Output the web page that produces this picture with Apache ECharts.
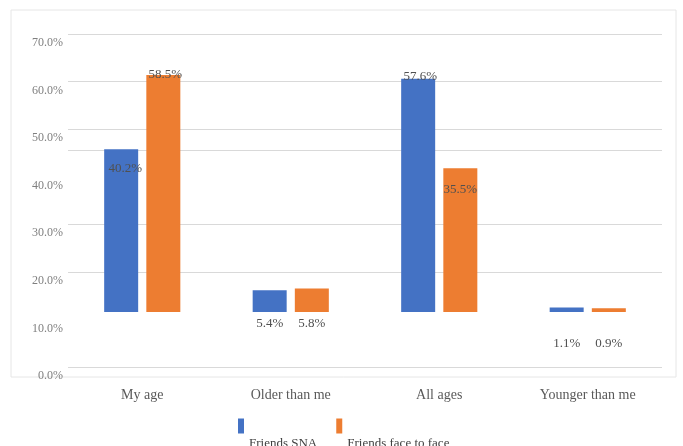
<!DOCTYPE html>
<html>
<head>
<meta charset="utf-8">
<script src="https://cdn.jsdelivr.net/npm/echarts@6/dist/echarts.min.js"></script>
<style>
    html, body {margin: 0; padding: 0; background: #fff;}
    #main {width: 683px; height: 446px;}
</style>
</head>
<body>
<div id="main"></div>
<script>
    const categories = ['My age', 'Older than me', 'All ages', 'Younger than me'];
    const friendsSNA = [40.2, 5.4, 57.6, 1.1];
    const friendsFace = [58.5, 5.8, 35.5, 0.9];
    const tickLabels = ['0.0%', '10.0%', '20.0%', '30.0%', '40.0%', '50.0%', '60.0%', '70.0%'];

    const FONT = '"Liberation Serif", "DejaVu Serif", serif';

    // where each value label sits, same order as categories
    const snaLabelPos = [
        {position: 'insideTop', offset: [4, 8]},
        {position: 'bottom', offset: [0, 0]},
        {position: 'top', offset: [2, 9]},
        {position: 'bottom', offset: [0, 20]}
    ];
    const faceLabelPos = [
        {position: 'top', offset: [2, 11]},
        {position: 'bottom', offset: [0, 0]},
        {position: 'insideTop', offset: [0, 10]},
        {position: 'bottom', offset: [0, 20]}
    ];

    function buildData(values, pos) {
        return values.map(function (v, i) {
            return {value: v, label: pos[i]};
        });
    }

    const myChart = echarts.init(document.getElementById('main'));
    const option = {
        backgroundColor: '#ffffff',
        animation: false,
        color: ['#4472C4', '#ED7D31'],
        graphic: [{
            type: 'rect',
            shape: {x: 11, y: 10, width: 665, height: 367},
            style: {fill: 'none', stroke: '#e6e6e6', lineWidth: 1},
            silent: true,
            z: -1
        }],
        legend: {
            left: 238,
            top: 391,
            padding: 0,
            itemWidth: 6,
            itemHeight: 15,
            itemGap: 19,
            icon: 'rect',
            data: ['Friends SNA', 'Friends face to face'],
            formatter: function (name) {
                return '\n' + name;   // text sits under the swatch
            },
            textStyle: {
                fontFamily: FONT,
                fontSize: 13,
                lineHeight: 35,
                color: '#404040'
            }
        },
        grid: [
            // axis labels + gridlines
            {left: 68, right: 21, top: 34, bottom: 79},
            // bars
            {left: 68, right: 21, top: 28.5, bottom: 134}
        ],
        xAxis: [{
            gridIndex: 0,
            type: 'category',
            data: categories,
            axisLine: {show: false},
            axisTick: {show: false},
            axisLabel: {
                margin: 21,
                fontFamily: FONT,
                fontSize: 14,
                color: '#595959'
            }
        }, {
            gridIndex: 1,
            type: 'category',
            data: categories,
            show: false
        }],
        yAxis: [{
            gridIndex: 0,
            type: 'value',
            min: 0,
            max: 70,
            interval: 10,
            axisLine: {show: false},
            axisTick: {show: false},
            axisLabel: {
                margin: 5,
                fontFamily: FONT,
                fontSize: 12,
                color: '#7f7f7f',
                verticalAlign: 'top',
                padding: [3, 0, 0, 0],
                formatter: function (value) {
                    return tickLabels[Math.round(value / 10)];
                }
            },
            splitLine: {
                show: true,
                lineStyle: {
                    color: ['#d9d9d9', 'rgba(0,0,0,0)', '#d9d9d9', '#d9d9d9',
                        'rgba(0,0,0,0)', '#d9d9d9', '#d9d9d9', '#d9d9d9'],
                    width: 1
                }
            }
        }, {
            gridIndex: 1,
            type: 'value',
            min: 0,
            max: 70,
            interval: 10,
            axisLine: {show: false},
            axisTick: {show: false},
            axisLabel: {show: false},
            splitLine: {
                show: true,
                lineStyle: {
                    color: ['rgba(0,0,0,0)', 'rgba(0,0,0,0)', 'rgba(0,0,0,0)', 'rgba(0,0,0,0)',
                        '#d9d9d9', 'rgba(0,0,0,0)', 'rgba(0,0,0,0)', 'rgba(0,0,0,0)'],
                    width: 1
                }
            }
        }],
        series: [{
            name: 'Friends SNA',
            type: 'bar',
            xAxisIndex: 1,
            yAxisIndex: 1,
            barWidth: 34,
            barGap: '24%',
            data: buildData(friendsSNA, snaLabelPos),
            label: {
                show: true,
                fontFamily: FONT,
                fontSize: 13,
                color: '#505050',
                formatter: function (p) {
                    return p.value.toFixed(1) + '%';
                }
            }
        }, {
            name: 'Friends face to face',
            type: 'bar',
            xAxisIndex: 1,
            yAxisIndex: 1,
            barWidth: 34,
            barGap: '24%',
            data: buildData(friendsFace, faceLabelPos),
            label: {
                show: true,
                fontFamily: FONT,
                fontSize: 13,
                color: '#505050',
                formatter: function (p) {
                    return p.value.toFixed(1) + '%';
                }
            }
        }]
    };
    myChart.setOption(option);
</script>
</body>
</html>
